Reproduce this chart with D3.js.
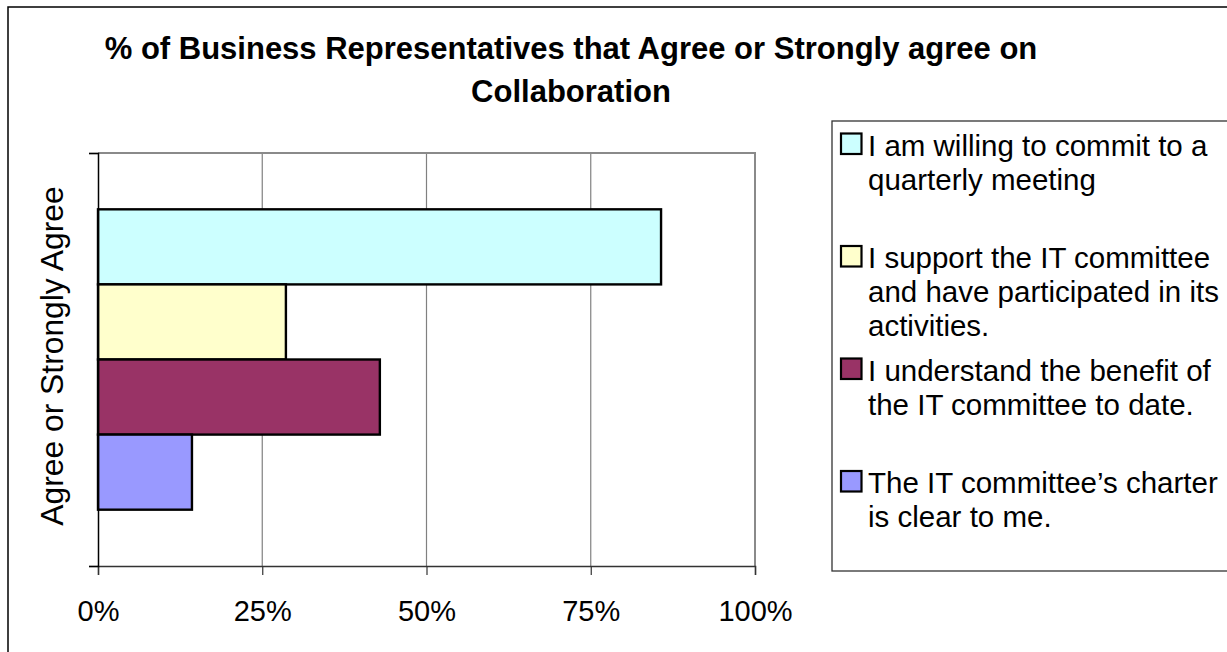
<!DOCTYPE html>
<html>
<head>
<meta charset="utf-8">
<script src="https://cdn.jsdelivr.net/npm/d3@7"></script>
<style>
  html, body { margin: 0; padding: 0; background: #fff; }
  svg { display: block; font-family: Arial, "Liberation Sans", sans-serif; }
</style>
</head>
<body>
<svg id="chart" width="1227" height="652"></svg>
<script>
// data
var categories = ["Agree or Strongly Agree"];
var seriesNames = [
    "I am willing to commit to a\nquarterly meeting",
    "I support the IT committee\nand have participated in its\nactivities.",
    "I understand the benefit of\nthe IT committee to date.",
    "The IT committee\u2019s charter\nis clear to me."
];
var seriesValues = [0.857, 0.286, 0.429, 0.143];
var seriesColors = ["#CCFFFF", "#FFFFCC", "#993366", "#9999FF"];
var xTicks = [0, 0.25, 0.5, 0.75, 1];
var titleLines = ["% of Business Representatives that Agree or Strongly agree on", "Collaboration"];

var svg = d3.select("#chart");
var width = +svg.attr("width");
var height = +svg.attr("height");

var plot = { left: 98, right: 755, top: 153, bottom: 566 };

// outer chart frame (runs off the right and bottom edges)
svg.append("rect")
    .attr("x", 8).attr("y", 7)
    .attr("width", width + 20).attr("height", height + 20)
    .attr("fill", "#fff")
    .attr("stroke", "#000")
    .attr("stroke-width", 1.5);

// title
svg.append("text")
    .attr("text-anchor", "middle")
    .style("font-size", "31px")
    .style("font-weight", "bold")
    .selectAll("tspan")
    .data(titleLines)
    .enter().append("tspan")
        .attr("x", 571)
        .attr("y", (d, i) => 59 + i * 42.5)
        .text(d => d);

var xScale = d3.scaleLinear()
    .domain([0, 1])
    .range([plot.left, plot.right]);

// one category band, series bars inside it (gap width 150%)
var yScale = d3.scaleBand()
    .domain(categories)
    .range([plot.top, plot.bottom])
    .paddingInner(0)
    .paddingOuter(0.1875);

var ySeries = d3.scaleBand()
    .domain(seriesNames)
    .range([0, yScale.bandwidth()]);

// gridlines
svg.append("g")
    .selectAll("line")
    .data(xTicks.filter(d => d > 0 && d < 1))
    .enter().append("line")
        .attr("x1", d => xScale(d)).attr("x2", d => xScale(d))
        .attr("y1", plot.top).attr("y2", plot.bottom)
        .attr("stroke", "#808080")
        .attr("stroke-width", 1.2);

// plot area border top + right
svg.append("path")
    .attr("d", "M" + plot.left + "," + plot.top + "H" + plot.right + "V" + plot.bottom)
    .attr("fill", "none")
    .attr("stroke", "#8a8a8a")
    .attr("stroke-width", 2);

// bars
svg.append("g")
    .selectAll("rect")
    .data(seriesNames.map((s, i) => ({ name: s, value: seriesValues[i], color: seriesColors[i], cat: categories[0] })))
    .enter().append("rect")
        .attr("x", xScale(0))
        .attr("y", d => yScale(d.cat) + ySeries(d.name))
        .attr("width", d => xScale(d.value) - xScale(0))
        .attr("height", ySeries.bandwidth())
        .attr("fill", d => d.color)
        .attr("stroke", "#000")
        .attr("stroke-width", 2.4);

// x axis
var xAxis = d3.axisBottom(xScale)
    .tickValues(xTicks)
    .tickFormat(d3.format(".0%"))
    .tickSize(9)
    .tickPadding(25);

var gx = svg.append("g")
    .attr("transform", "translate(0," + plot.bottom + ")")
    .call(xAxis);
gx.select(".domain").attr("stroke", "#333").attr("stroke-width", 1.5);
gx.selectAll(".tick line").attr("stroke", "#333").attr("stroke-width", 1.2);
gx.selectAll(".tick text")
    .attr("fill", "#000")
    .style("font-size", "29px")
    .style("font-family", "Arial, 'Liberation Sans', sans-serif");

// y axis: ticks at category edges
var yEdge = d3.scaleLinear()
    .domain([0, categories.length])
    .range([plot.bottom, plot.top]);
var gy = svg.append("g")
    .attr("transform", "translate(" + plot.left + ",0)")
    .call(d3.axisLeft(yEdge).tickValues(d3.range(categories.length + 1)).tickSize(9).tickFormat(""));
gy.select(".domain").attr("stroke", "#000").attr("stroke-width", 1.5);
gy.selectAll(".tick line").attr("stroke", "#000").attr("stroke-width", 1.2);

// category label, rotated
svg.append("g")
    .selectAll("text")
    .data(categories)
    .enter().append("text")
        .attr("transform", d => "translate(62.5," + (yScale(d) + yScale.bandwidth() / 2 - 3.5) + ") rotate(-90)")
        .attr("text-anchor", "middle")
        .style("font-size", "31.8px")
        .text(d => d);

// legend
var legendBox = { x: 832, y: 121, bottom: 571 };
var legend = svg.append("g");
legend.append("rect")
    .attr("x", legendBox.x).attr("y", legendBox.y)
    .attr("width", width).attr("height", legendBox.bottom - legendBox.y)
    .attr("fill", "#fff")
    .attr("stroke", "#333")
    .attr("stroke-width", 1.3);

var legendScale = d3.scaleBand()
    .domain(seriesNames)
    .range([legendBox.y, legendBox.bottom]);

var item = legend.selectAll(".item")
    .data(seriesNames)
    .enter().append("g")
        .attr("class", "item")
        .attr("transform", d => "translate(0," + (legendScale(d) + 24) + ")");

item.append("rect")
    .attr("x", 841).attr("y", -11.5)
    .attr("width", 20.5).attr("height", 20.5)
    .attr("fill", (d, i) => seriesColors[i])
    .attr("stroke", "#000")
    .attr("stroke-width", 2.2);

item.append("text")
    .style("font-size", "29.5px")
    .selectAll("tspan")
    .data(d => d.split("\n"))
    .enter().append("tspan")
        .attr("x", 868)
        .attr("y", (d, i) => 10.5 + i * 34)
        .text(d => d);
</script>
</body>
</html>
